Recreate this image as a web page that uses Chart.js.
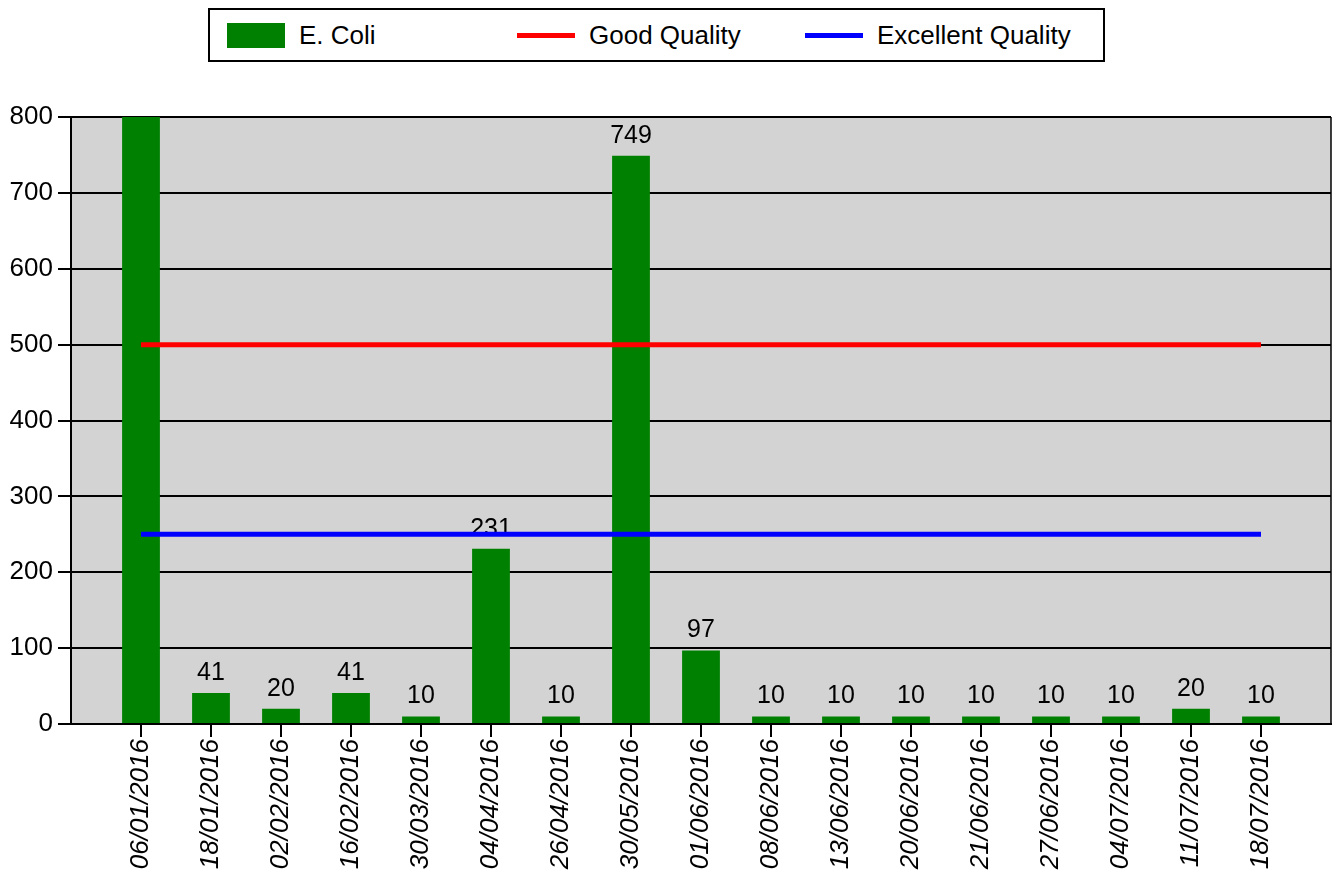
<!DOCTYPE html>
<html>
<head>
<meta charset="utf-8">
<script src="https://cdn.jsdelivr.net/npm/chart.js@4/dist/chart.umd.min.js"></script>
<style>
  html, body { margin: 0; padding: 0; background: #fff; }
  #wrap { position: relative; width: 1336px; height: 874px; }
  #chart { position: absolute; left: 0; top: 0; }
  #legend {
    position: absolute; left: 208px; top: 8px; width: 893px; height: 50px;
    border: 2px solid #000; background: #fff;
    font-family: "Liberation Sans", Arial, sans-serif; font-size: 26px; color: #000;
  }
  #legend .sw { position: absolute; }
  #legend .tx { position: absolute; top: 11px; line-height: 28px; white-space: nowrap; }
</style>
</head>
<body>
<div id="wrap">
  <canvas id="chart" width="1336" height="874"></canvas>
  <div id="legend"></div>
</div>
<script>
(function () {
  // ==== Datos ====
  const fechas = ['06/01/2016', '18/01/2016', '02/02/2016', '16/02/2016', '30/03/2016',
    '04/04/2016', '26/04/2016', '30/05/2016', '01/06/2016', '08/06/2016', '13/06/2016',
    '20/06/2016', '21/06/2016', '27/06/2016', '04/07/2016', '11/07/2016', '18/07/2016'];
  // first value runs off the top of the axis, estimated
  const eColi = [980, 41, 20, 41, 10, 231, 10, 749, 97, 10, 10, 10, 10, 10, 10, 20, 10];
  const goodQuality = 500;
  const excellentQuality = 250;
  const yTicks = [0, 100, 200, 300, 400, 500, 600, 700, 800];

  const FONT = '"Liberation Sans", Arial, sans-serif';

  // blank slot at each end of the axis
  const labels = [''].concat(fechas, ['']);
  const pad = arr => [null].concat(arr, [null]);

  // ==== Plugins ====
  const plotBg = {
    id: 'plotBg',
    beforeDraw(chart) {
      const a = chart.chartArea, ctx = chart.ctx;
      ctx.save();
      ctx.fillStyle = '#d3d3d3';
      ctx.fillRect(a.left, a.top, a.right - a.left, a.bottom - a.top);
      ctx.restore();
    },
    afterDraw(chart) {
      const a = chart.chartArea, ctx = chart.ctx;
      ctx.save();
      ctx.strokeStyle = '#000';
      ctx.lineWidth = 1.5;
      ctx.beginPath();
      ctx.moveTo(a.right, a.top);
      ctx.lineTo(a.right, a.bottom);
      ctx.stroke();
      ctx.restore();
    }
  };

  const valueLabels = {
    id: 'valueLabels',
    afterDatasetDraw(chart, args) {
      if (args.index !== 0) return;
      const ctx = chart.ctx;
      const yScale = chart.scales.y;
      ctx.save();
      ctx.font = '25px ' + FONT;
      ctx.fillStyle = '#000';
      ctx.textAlign = 'center';
      ctx.textBaseline = 'alphabetic';
      args.meta.data.forEach((bar, i) => {
        const v = chart.data.datasets[0].data[i];
        if (v == null || v > yScale.max) return;
        ctx.fillText(String(v), bar.x, bar.y - 13);
      });
      ctx.restore();
    }
  };

  const chart = new Chart(document.getElementById('chart'), {
    type: 'bar',
    data: {
      labels: labels,
      datasets: [
        {
          type: 'bar', label: 'E. Coli', data: pad(eColi),
          backgroundColor: '#008000', borderWidth: 0,
          barPercentage: 0.54, categoryPercentage: 1, order: 2
        },
        {
          type: 'line', label: 'Good Quality', data: pad(fechas.map(() => goodQuality)),
          borderColor: '#ff0000', borderWidth: 5, pointRadius: 0, fill: false, order: 1
        },
        {
          type: 'line', label: 'Excellent Quality', data: pad(fechas.map(() => excellentQuality)),
          borderColor: '#0000ff', borderWidth: 5, pointRadius: 0, fill: false, order: 1
        }
      ]
    },
    options: {
      responsive: false,
      animation: false,
      layout: { padding: { top: 117, right: 5, left: 0, bottom: 0 } },
      plugins: {
        legend: { display: false },
        tooltip: { enabled: false }
      },
      scales: {
        x: {
          offset: false,
          grid: {
            offset: false,
            drawOnChartArea: false, drawTicks: true, tickLength: 13, lineWidth: 2,
            tickColor: c => (labels[c.index] ? '#000' : 'rgba(0,0,0,0)')
          },
          border: { color: '#000', width: 2 },
          ticks: {
            autoSkip: false, minRotation: 90, maxRotation: 90, padding: 2,
            color: '#000', font: { family: FONT, size: 26, style: 'italic' }
          },
          afterFit(scale) {
            scale.height = 150;
            scale.paddingLeft = 0;
            scale.paddingRight = 0;
          }
        },
        y: {
          min: 0, max: 800,
          afterBuildTicks(scale) { scale.ticks = yTicks.map(v => ({ value: v })); },
          grid: { color: '#000', lineWidth: 2, tickLength: 13 },
          border: { color: '#000', width: 2 },
          ticks: { padding: 5, color: '#000', font: { family: FONT, size: 26 } },
          afterFit(scale) {
            scale.width = 71;
            scale.paddingTop = 0;
            scale.paddingBottom = 0;
          }
        }
      }
    },
    plugins: [plotBg, valueLabels]
  });

  // ==== Leyenda ====
  const legend = document.getElementById('legend');
  const slots = [17, 307, 595];
  chart.data.datasets.forEach((ds, i) => {
    const sw = document.createElement('div');
    sw.className = 'sw';
    sw.style.left = slots[i] + 'px';
    sw.style.width = '58px';
    if (ds.type === 'bar') {
      sw.style.top = '13px'; sw.style.height = '25px';
      sw.style.background = ds.backgroundColor;
    } else {
      sw.style.top = '23px'; sw.style.height = '5px';
      sw.style.background = ds.borderColor;
    }
    const tx = document.createElement('div');
    tx.className = 'tx';
    tx.style.left = (slots[i] + 72) + 'px';
    tx.textContent = ds.label;
    legend.appendChild(sw);
    legend.appendChild(tx);
  });
})();
</script>
</body>
</html>
